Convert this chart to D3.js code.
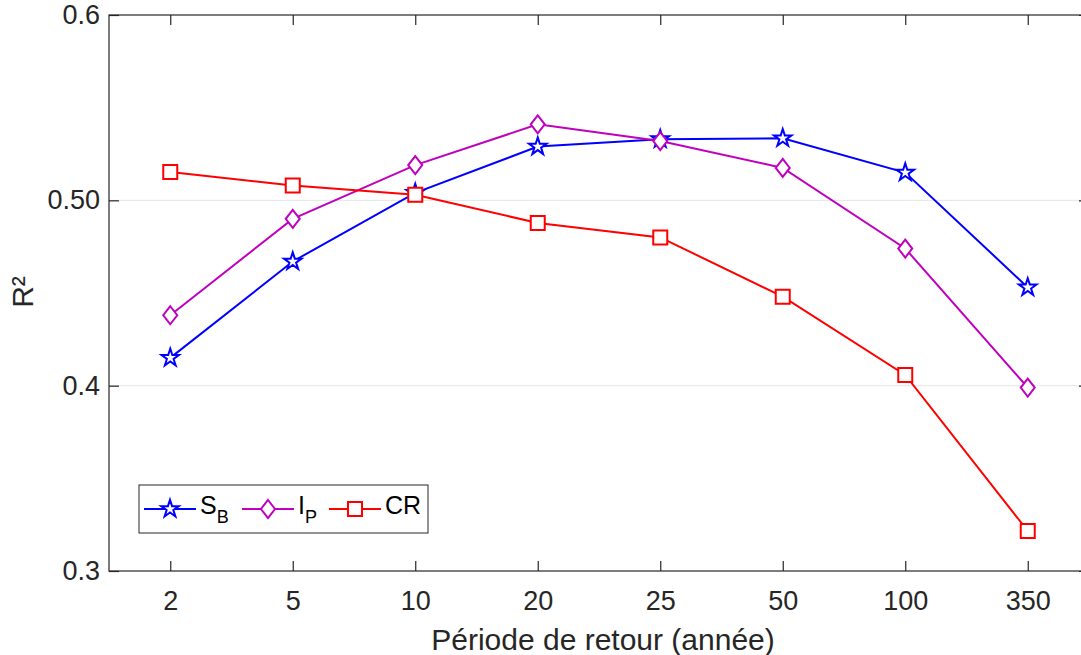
<!DOCTYPE html>
<html>
<head>
<meta charset="utf-8">
<script src="https://cdn.jsdelivr.net/npm/d3@7"></script>
<style>
  body { margin: 0; background: #fff; }
  svg { display: block; font-family: "Liberation Sans", Arial, sans-serif; }
</style>
</head>
<body>
<svg id="chart" width="1081" height="655"></svg>
<script>
// data
const periods = ["2", "5", "10", "20", "25", "50", "100", "350"]
const sbValues = [0.415, 0.467, 0.504, 0.529, 0.533, 0.5335, 0.515, 0.453]
const ipValues = [0.438, 0.490, 0.519, 0.541, 0.532, 0.5175, 0.474, 0.399]
const crValues = [0.5153, 0.508, 0.503, 0.4878, 0.480, 0.448, 0.4058, 0.3216]
const yTicks = [0.3, 0.4, 0.5, 0.6]
const yTickLabels = ["0.3", "0.4", "0.50", "0.6"]

const svg = d3.select("#chart")
const mLeft = 109, mTop = 15, mBottom = 571, mRight = 1089
const ink = "#262626"

const x = d3.scalePoint().domain(periods).range([mLeft, mRight]).padding(0.5)
const y = d3.scaleLinear().domain([0.3, 0.6]).range([mBottom, mTop])

// custom markers
const diamond = {
    draw(ctx, size) {
        const w = 7, h = 9
        ctx.moveTo(0, -h); ctx.lineTo(w, 0); ctx.lineTo(0, h); ctx.lineTo(-w, 0); ctx.closePath()
    }
}
const square = {
    draw(ctx, size) {
        const s = 7
        ctx.moveTo(-s, -s); ctx.lineTo(s, -s); ctx.lineTo(s, s); ctx.lineTo(-s, s); ctx.closePath()
    }
}
const series = [
    {name: "S", sub: "B", values: sbValues, color: "#0000ff", symbol: d3.symbol(d3.symbolStar, 95)},
    {name: "I", sub: "P", values: ipValues, color: "#bf00bf", symbol: d3.symbol(diamond, 1)},
    {name: "CR", sub: "", values: crValues, color: "#ff0000", symbol: d3.symbol(square, 1)}
]

// grid
svg.append("g").selectAll("line").data(yTicks.filter(d => d > 0.3 && d < 0.6)).enter().append("line")
    .attr("x1", mLeft).attr("x2", mRight)
    .attr("y1", d => y(d)).attr("y2", d => y(d))
    .attr("stroke", "#e5e5e5").attr("stroke-width", 1)

// box
svg.append("rect").attr("x", mLeft).attr("y", mTop).attr("width", mRight - mLeft).attr("height", mBottom - mTop)
    .attr("fill", "none").attr("stroke", ink).attr("stroke-width", 1.2)

// x axis (bottom + top ticks)
const xAxis = svg.append("g").attr("transform", `translate(0,${mBottom})`)
    .call(d3.axisBottom(x).tickSizeInner(-10).tickSizeOuter(0).tickPadding(20))
xAxis.select(".domain").remove()
xAxis.selectAll("line").attr("stroke", ink).attr("stroke-width", 1.2)
xAxis.selectAll("text").attr("fill", ink).attr("font-size", 27).attr("font-family", null)

const xTop = svg.append("g").attr("transform", `translate(0,${mTop})`)
    .call(d3.axisTop(x).tickSizeInner(-10).tickSizeOuter(0).tickFormat(""))
xTop.select(".domain").remove()
xTop.selectAll("line").attr("stroke", ink).attr("stroke-width", 1.2)

// y axis (left + right ticks)
const yAxis = svg.append("g").attr("transform", `translate(${mLeft},0)`)
    .call(d3.axisLeft(y).tickValues(yTicks).tickFormat((d, i) => yTickLabels[i]).tickSizeInner(-10).tickSizeOuter(0).tickPadding(9))
yAxis.select(".domain").remove()
yAxis.selectAll("line").attr("stroke", ink).attr("stroke-width", 1.2)
yAxis.selectAll("text").attr("fill", ink).attr("font-size", 27).attr("font-family", null)

const yRight = svg.append("g").attr("transform", `translate(${mRight},0)`)
    .call(d3.axisRight(y).tickValues(yTicks).tickSizeInner(-10).tickSizeOuter(0).tickFormat(""))
yRight.select(".domain").remove()
yRight.selectAll("line").attr("stroke", ink).attr("stroke-width", 1.2)

// axis titles
svg.append("text").attr("x", 603).attr("y", 650).attr("text-anchor", "middle")
    .attr("font-size", 30).attr("fill", ink).text("Période de retour (année)")
svg.append("text").attr("transform", "translate(33,292) rotate(-90)").attr("text-anchor", "middle")
    .attr("font-size", 30).attr("fill", ink).text("R²")

// series
const line = d3.line().x((d, i) => x(periods[i])).y(d => y(d))
series.forEach(function(s) {
    const g = svg.append("g")
    g.append("path").datum(s.values).attr("d", line)
        .attr("fill", "none").attr("stroke", s.color).attr("stroke-width", 2)
    g.selectAll(".m").data(s.values).enter().append("path").attr("class", "m")
        .attr("transform", (d, i) => `translate(${x(periods[i])},${y(d)})`)
        .attr("d", s.symbol)
        .attr("fill", "#fff").attr("stroke", s.color).attr("stroke-width", 2)
})

// legend
const lg = svg.append("g")
lg.append("rect").attr("x", 139).attr("y", 485).attr("width", 289).attr("height", 48)
    .attr("fill", "#fff").attr("stroke", ink).attr("stroke-width", 1)
const legendX = [144, 242, 329]
series.forEach(function(s, i) {
    const x0 = legendX[i], ly = 509
    lg.append("line").attr("x1", x0).attr("x2", x0 + 52).attr("y1", ly).attr("y2", ly)
        .attr("stroke", s.color).attr("stroke-width", 2)
    lg.append("path").attr("transform", `translate(${x0 + 26},${ly})`).attr("d", s.symbol)
        .attr("fill", "#fff").attr("stroke", s.color).attr("stroke-width", 2)
    const t = lg.append("text").attr("x", x0 + 56).attr("y", 514).attr("font-size", 25).attr("fill", "#000")
    t.append("tspan").text(s.name)
    if (s.sub) t.append("tspan").attr("font-size", 18).attr("dy", 9).text(s.sub)
})
</script>
</body>
</html>
